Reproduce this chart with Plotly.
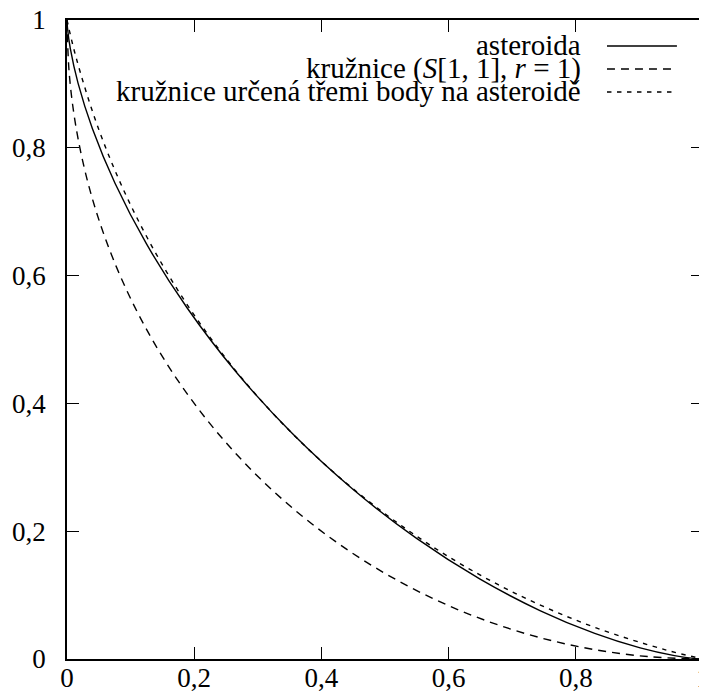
import plotly.graph_objects as go

# asteroida (x = cos^3 t, y = sin^3 t), values read/estimated at t = 0..90 deg step 5
ast_x = [1.0, 0.98861, 0.95512, 0.90123, 0.82976, 0.74444, 0.64952, 0.54966, 0.44953, 0.35355,
         0.26559, 0.18871, 0.12500, 0.07548, 0.04001, 0.01734, 0.00524, 0.00066, 0.0]
ast_y = [0.0, 0.00066, 0.00524, 0.01734, 0.04001, 0.07548, 0.12500, 0.18871, 0.26559, 0.35355,
         0.44953, 0.54966, 0.64952, 0.74444, 0.82976, 0.90123, 0.95512, 0.98861, 1.0]

# kružnice S[1,1], r=1
k1_x = [0.0, 0.00381, 0.01519, 0.03407, 0.06031, 0.09369, 0.13397, 0.18085, 0.23396, 0.29289,
        0.35721, 0.42642, 0.50000, 0.57738, 0.65798, 0.74118, 0.82635, 0.91284, 1.0]
k1_y = [1.0, 0.91284, 0.82635, 0.74118, 0.65798, 0.57738, 0.50000, 0.42642, 0.35721, 0.29289,
        0.23396, 0.18085, 0.13397, 0.09369, 0.06031, 0.03407, 0.01519, 0.00381, 0.0]

# kružnice určená třemi body na asteroidě
k2_x = [0.0, 0.01433, 0.04872, 0.09247, 0.14526, 0.20671, 0.27631, 0.35355,
        0.43785, 0.52856, 0.62500, 0.72642, 0.83206, 0.94111, 1.0]
k2_y = [1.0, 0.94111, 0.83206, 0.72642, 0.62500, 0.52856, 0.43785, 0.35355,
        0.27631, 0.20671, 0.14526, 0.09247, 0.04872, 0.01433, 0.0]

tick_vals = [0, 0.2, 0.4, 0.6, 0.8, 1]
tick_text = ["0", "0,2", "0,4", "0,6", "0,8", "1"]

legend_names = ["asteroida", "kružnice (<i>S</i>[1, 1], <i>r</i> = 1)",
                "kružnice určená třemi body na asteroidě"]
dashes = ["solid", "8px,6px", "4.5px,5.5px"]

FONT = "Liberation Serif, DejaVu Serif, serif"
FS = 27
LEG_FS = 29

fig = go.Figure()
series = [(ast_x, ast_y), (k1_x, k1_y), (k2_x, k2_y)]
for (xs, ys), name, d in zip(series, legend_names, dashes):
    fig.add_trace(go.Scatter(x=xs, y=ys, mode="lines", name=name,
                             line=dict(color="black", width=1.4, dash=d, shape="spline", smoothing=1.0),
                             showlegend=False, hoverinfo="skip", cliponaxis=False))

# gnuplot-style legend: text right-aligned, sample line on the right
row_y = [0.9593, 0.9233, 0.8873]
for name, d, yy in zip(legend_names, dashes, row_y):
    fig.add_annotation(xref="paper", yref="paper", x=0.8113, y=yy, text=name, showarrow=False,
                       xanchor="right", yanchor="middle", yshift=1,
                       font=dict(family=FONT, size=LEG_FS, color="black"))
    fig.add_shape(type="line", xref="paper", yref="paper", x0=0.849, x1=0.959, y0=yy, y1=yy,
                  line=dict(color="black", width=1.4, dash=d))

axis_common = dict(range=[0, 1], tickvals=tick_vals, ticktext=tick_text, showgrid=False,
                   zeroline=False, showline=True, linecolor="black", linewidth=1.5, mirror="ticks",
                   ticks="inside", ticklen=12, tickwidth=1, tickcolor="black", automargin=False,
                   ticklabeloverflow="allow",
                   tickfont=dict(family=FONT, size=FS, color="black"))

fig.update_layout(
    width=699, height=683,
    margin=dict(l=59, r=4, t=12, b=32),
    paper_bgcolor="white", plot_bgcolor="white",
    xaxis=dict(**axis_common, ticklabelstandoff=-6),
    yaxis=dict(**axis_common, ticklabelstandoff=14),
    showlegend=False,
)

fig.write_html("out.html")
